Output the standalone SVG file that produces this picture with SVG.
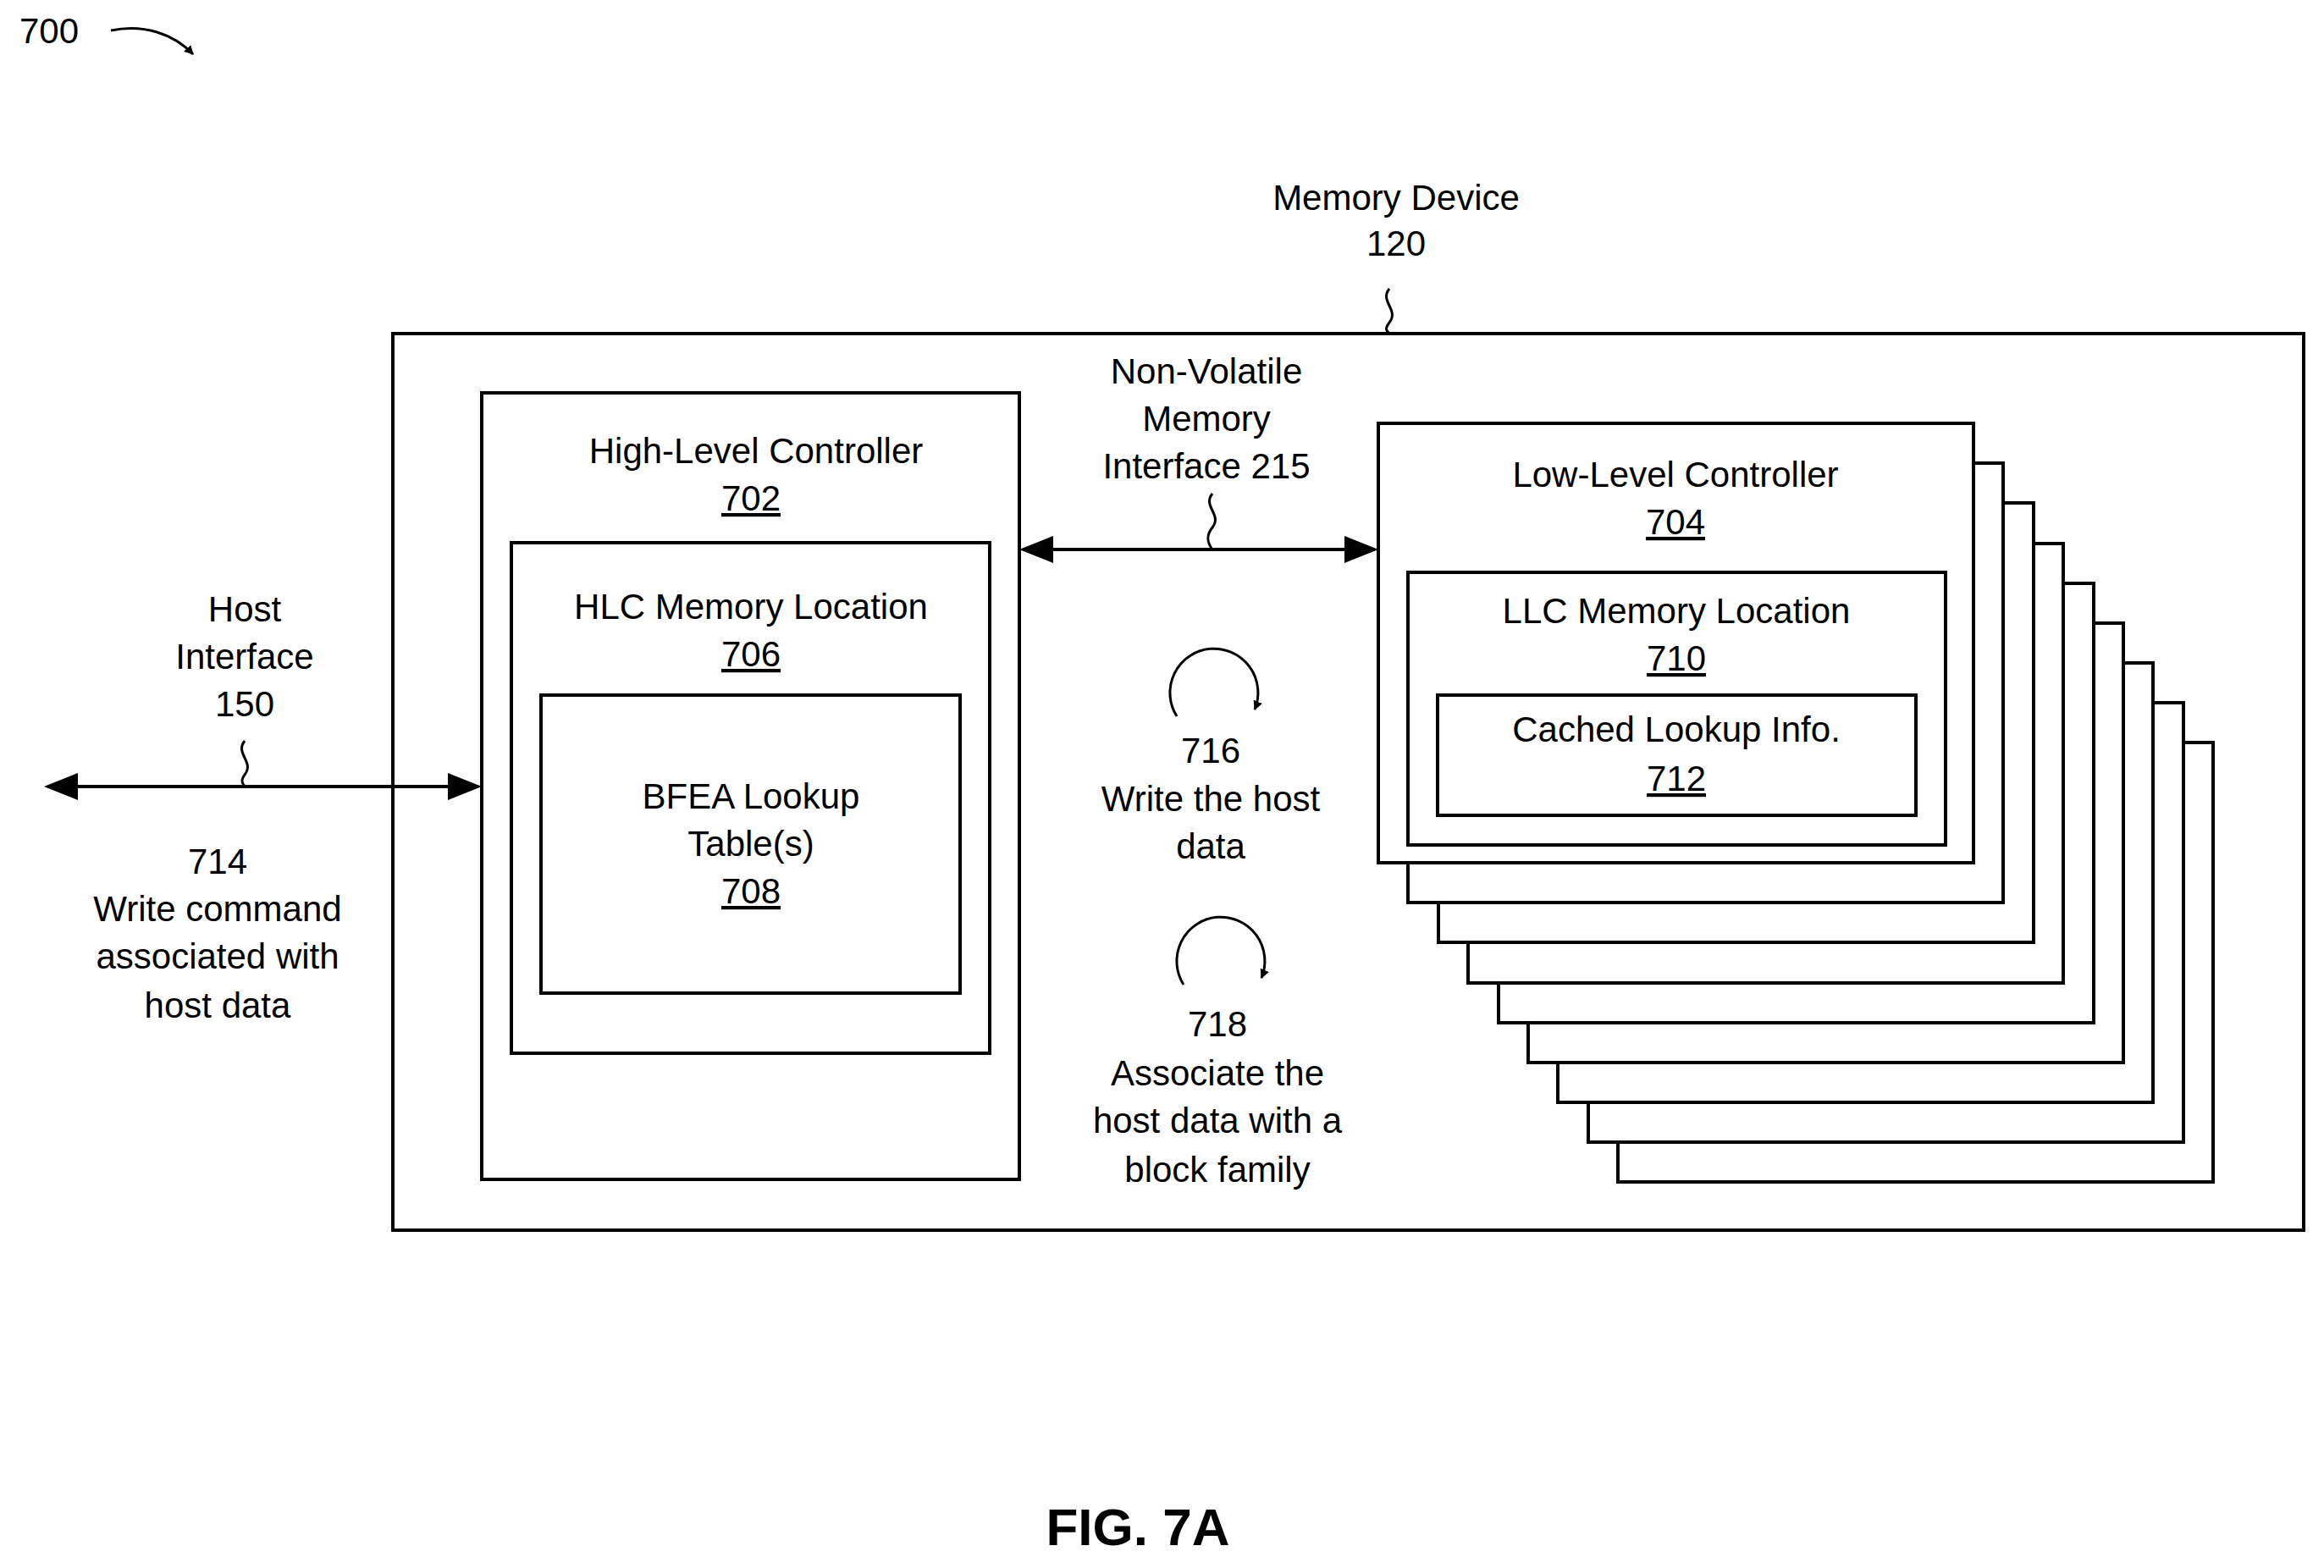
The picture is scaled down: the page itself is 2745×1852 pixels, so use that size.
<svg xmlns="http://www.w3.org/2000/svg" width="2745" height="1852" viewBox="0 0 2745 1852">
<style>
text{font-family:"Liberation Sans",Arial,sans-serif;font-size:42px;fill:#000;text-anchor:middle}
.u{text-decoration:underline}
.b{fill:#fff;stroke:#000;stroke-width:4}
.l{fill:none;stroke:#000;stroke-width:4}
.s{fill:none;stroke:#000;stroke-width:3}
</style>
<defs>
<marker id="a" viewBox="0 0 10 10" refX="9" refY="5" markerWidth="11" markerHeight="11" markerUnits="userSpaceOnUse" orient="auto-start-reverse"><path d="M0,0L10,5L0,10z"/></marker>
<marker id="h" viewBox="0 0 10 10" refX="9" refY="5" markerWidth="40" markerHeight="40" markerUnits="userSpaceOnUse" orient="auto-start-reverse"><path d="M0,1L10,5L0,9z"/></marker>
</defs>
<rect width="2745" height="1852" fill="#fff"/>
<g id="label700"><text x="58" y="51">700</text><path class="s" d="M131,36 C170,28 205,40 228,64" marker-end="url(#a)"/></g>
<g id="memdev">
<rect class="b" x="464" y="394" width="2257" height="1059"/>
<text x="1649" y="248">Memory Device</text><text x="1649" y="302">120</text>
<path class="s" d="M1641,341 c-12,15 12,25 0,40 c-6,8 -3,10 0,13"/>
</g>
<g id="hlc">
<rect class="b" x="569" y="464" width="635" height="929"/>
<text x="893" y="547">High-Level Controller</text><text class="u" x="887" y="603">702</text>
<rect class="b" x="604" y="641" width="565" height="603"/>
<text x="887" y="731">HLC Memory Location</text><text class="u" x="887" y="787">706</text>
<rect class="b" x="639" y="821" width="495" height="352"/>
<text x="887" y="955">BFEA Lookup</text><text x="887" y="1011">Table(s)</text><text class="u" x="887" y="1067">708</text>
</g>
<g id="llc">
<rect class="b" x="1911" y="877" width="703" height="519"/>
<rect class="b" x="1876" y="830" width="703" height="519"/>
<rect class="b" x="1840" y="783" width="703" height="519"/>
<rect class="b" x="1805" y="736" width="703" height="519"/>
<rect class="b" x="1770" y="689" width="703" height="519"/>
<rect class="b" x="1734" y="642" width="703" height="519"/>
<rect class="b" x="1699" y="594" width="703" height="519"/>
<rect class="b" x="1663" y="547" width="703" height="519"/>
<rect class="b" x="1628" y="500" width="703" height="519"/>
<text x="1979" y="575">Low-Level Controller</text><text class="u" x="1979" y="631">704</text>
<rect class="b" x="1663" y="676" width="635" height="322"/>
<text x="1980" y="736">LLC Memory Location</text><text class="u" x="1980" y="792">710</text>
<rect class="b" x="1698" y="821" width="565" height="142"/>
<text x="1980" y="876">Cached Lookup Info.</text><text class="u" x="1980" y="934">712</text>
</g>
<g id="connectors">
<path class="l" d="M56,929H565" marker-start="url(#h)" marker-end="url(#h)"/>
<path class="s" d="M289,875 c-12,15 12,25 0,40 c-5,7 -3,10 0,14"/>
<path class="l" d="M1208,649H1624" marker-start="url(#h)" marker-end="url(#h)"/>
<path class="s" d="M1432,583 c-12,15 12,25 0,40 c-8,10 -6,18 0,26"/>
<path class="s" d="M1390,846 A52,52 0 1 1 1482,838" marker-end="url(#a)"/>
<path class="s" d="M1398,1163 A52,52 0 1 1 1490,1155" marker-end="url(#a)"/>
</g>
<g id="texts">
<text x="289" y="734">Host</text><text x="289" y="790">Interface</text><text x="289" y="846">150</text>
<text x="257" y="1032">714</text><text x="257" y="1088">Write command</text><text x="257" y="1144">associated with</text><text x="257" y="1202">host data</text>
<text x="1425" y="453">Non-Volatile</text><text x="1425" y="509">Memory</text><text x="1425" y="565">Interface 215</text>
<text x="1430" y="901">716</text><text x="1430" y="958">Write the host</text><text x="1430" y="1014">data</text>
<text x="1438" y="1224">718</text><text x="1438" y="1282">Associate the</text><text x="1438" y="1338">host data with a</text><text x="1438" y="1396">block family</text>
<text x="1344" y="1825" style="font-size:62px;font-weight:bold">FIG. 7A</text>
</g>
</svg>
